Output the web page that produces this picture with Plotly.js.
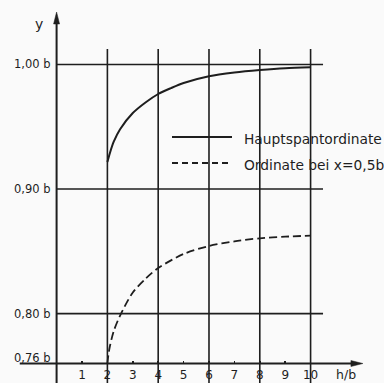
<!DOCTYPE html>
<html><head><meta charset="utf-8">
<script src="https://cdn.plot.ly/plotly-3.0.1.min.js"></script>
<style>html,body{margin:0;padding:0;background:#fafafa}</style>
</head><body><div id="chart" style="width:384px;height:383px"></div>
<script>
// Data
const xSolid = [2, 2.1, 2.25, 2.5, 3, 3.5, 4, 4.5, 5, 6, 7, 8, 9, 10];
const ySolid = [0.9217, 0.929, 0.938, 0.948, 0.961, 0.9695, 0.9763, 0.981, 0.9851, 0.9905, 0.9935, 0.9955, 0.997, 0.9977];
const xDash = [2, 2.04, 2.1, 2.25, 2.5, 3, 3.5, 4, 5, 6, 7, 8, 9, 10];
const yDash = [0.76, 0.767, 0.774, 0.786, 0.7985, 0.817, 0.828, 0.8366, 0.8479, 0.8543, 0.858, 0.8605, 0.8618, 0.8626];
const seriesNames = ["Hauptspantordinate", "Ordinate bei x=0,5b"];
const xTickVals = [1, 2, 3, 4, 5, 6, 7, 8, 9, 10];
const xTickText = ["1", "2", "3", "4", "5", "6", "7", "8", "9", "10"];
const yTickVals = [1.00, 0.90, 0.80, 0.76];
const yTickText = ["1,00 b", "0,90 b", "0,80 b", "0,76 b"];
const xGrid = [2, 4, 6, 8, 10];
const yGrid = [0.80, 0.90, 1.00];
const xAxisTitle = "h/b";
const yAxisTitle = "y";

const ink = '#1e1e1e';
const font = 'DejaVu Sans, sans-serif';
const XR = [-2.228, 12.890], YR = [0.74435, 1.05174];
const yBase = 0.76, gridTop = 1.0124, gridRight = 10.49;
const xAxisStart = -1.45, xAxisEnd = 12.06, yAxisEnd = 1.0421;

const traces = [
  {x: xSolid, y: ySolid, name: seriesNames[0], mode: 'lines', line: {color: ink, width: 2, shape: 'spline', smoothing: 0.8}, showlegend: false, hoverinfo: 'skip'},
  {x: xDash, y: yDash, name: seriesNames[1], mode: 'lines', line: {color: ink, width: 1.8, dash: '8px,4px', shape: 'spline', smoothing: 0.8}, showlegend: false, hoverinfo: 'skip'}
];

const shapes = [];
xGrid.forEach(v => shapes.push({type: 'line', xref: 'x', yref: 'y', x0: v, x1: v, y0: YR[0], y1: gridTop, line: {color: ink, width: 1.6}, layer: 'below'}));
yGrid.forEach(v => shapes.push({type: 'line', xref: 'x', yref: 'y', x0: 0, x1: gridRight, y0: v, y1: v, line: {color: ink, width: 1.6}, layer: 'below'}));
// axes
shapes.push({type: 'line', xref: 'x', yref: 'y', x0: xAxisStart, x1: xAxisEnd - 0.3, y0: yBase, y1: yBase, line: {color: ink, width: 2}});
shapes.push({type: 'line', xref: 'x', yref: 'y', x0: 0, x1: 0, y0: YR[0], y1: yAxisEnd - 0.006, line: {color: ink, width: 2}});
// arrowheads
shapes.push({type: 'path', xref: 'x', yref: 'y', xsizemode: 'pixel', ysizemode: 'pixel', xanchor: xAxisEnd, yanchor: yBase,
  path: 'M0,0 L-12,3 L-12,-3 Z', fillcolor: ink, line: {color: ink, width: 0.5}});
shapes.push({type: 'path', xref: 'x', yref: 'y', xsizemode: 'pixel', ysizemode: 'pixel', xanchor: 0, yanchor: yAxisEnd,
  path: 'M0,0 L-3,-12 L3,-12 Z', fillcolor: ink, line: {color: ink, width: 0.5}});
// legend samples
shapes.push({type: 'line', xref: 'paper', yref: 'paper', x0: 172/384, x1: 232/384, y0: 1 - 137/383, y1: 1 - 137/383, line: {color: ink, width: 2}});
shapes.push({type: 'line', xref: 'paper', yref: 'paper', x0: 172/384, x1: 232/384, y0: 1 - 163/383, y1: 1 - 163/383, line: {color: ink, width: 1.8, dash: '6px,4px'}});

const annotations = [];
yTickVals.forEach((v, i) => annotations.push({x: 0, y: v, xref: 'x', yref: 'y', text: yTickText[i], showarrow: false,
  xanchor: 'right', yanchor: 'middle', xshift: -4, yshift: (v === yBase ? 6 : 0), font: {family: font, size: 11.5, color: ink}}));
annotations.push({x: 346/384, y: 1 - 374/383, xref: 'paper', yref: 'paper', xanchor: 'center', yanchor: 'middle', text: xAxisTitle, showarrow: false, font: {family: font, size: 12.5, color: ink}});
annotations.push({x: 39/384, y: 1 - 24/383, xref: 'paper', yref: 'paper', xanchor: 'center', yanchor: 'middle', text: yAxisTitle, showarrow: false, font: {family: font, size: 14, color: ink}});
annotations.push({x: 242/384, y: 1 - 139/383, xref: 'paper', yref: 'paper', text: seriesNames[0], showarrow: false, xanchor: 'left', yanchor: 'middle', font: {family: font, size: 13.8, color: ink}});
annotations.push({x: 242/384, y: 1 - 165/383, xref: 'paper', yref: 'paper', text: seriesNames[1], showarrow: false, xanchor: 'left', yanchor: 'middle', font: {family: font, size: 13.8, color: ink}});

const layout = {
  width: 384, height: 383,
  margin: {l: 0, r: 0, t: 0, b: 0},
  paper_bgcolor: '#fafafa', plot_bgcolor: '#fafafa',
  showlegend: false,
  xaxis: {range: XR, anchor: 'free', position: 19.5/383, showgrid: false, zeroline: false, showline: false,
    tickmode: 'array', tickvals: xTickVals, ticktext: xTickText, ticks: 'inside', ticklen: 3, tickwidth: 1.5, tickcolor: ink,
    ticklabelstandoff: 2, tickfont: {family: font, size: 12, color: ink}, fixedrange: true},
  yaxis: {range: YR, showgrid: false, zeroline: false, showline: false, showticklabels: false, ticks: '', fixedrange: true},
  shapes: shapes, annotations: annotations
};
Plotly.newPlot('chart', traces, layout, {displayModeBar: false, staticPlot: true});
</script></body></html>
